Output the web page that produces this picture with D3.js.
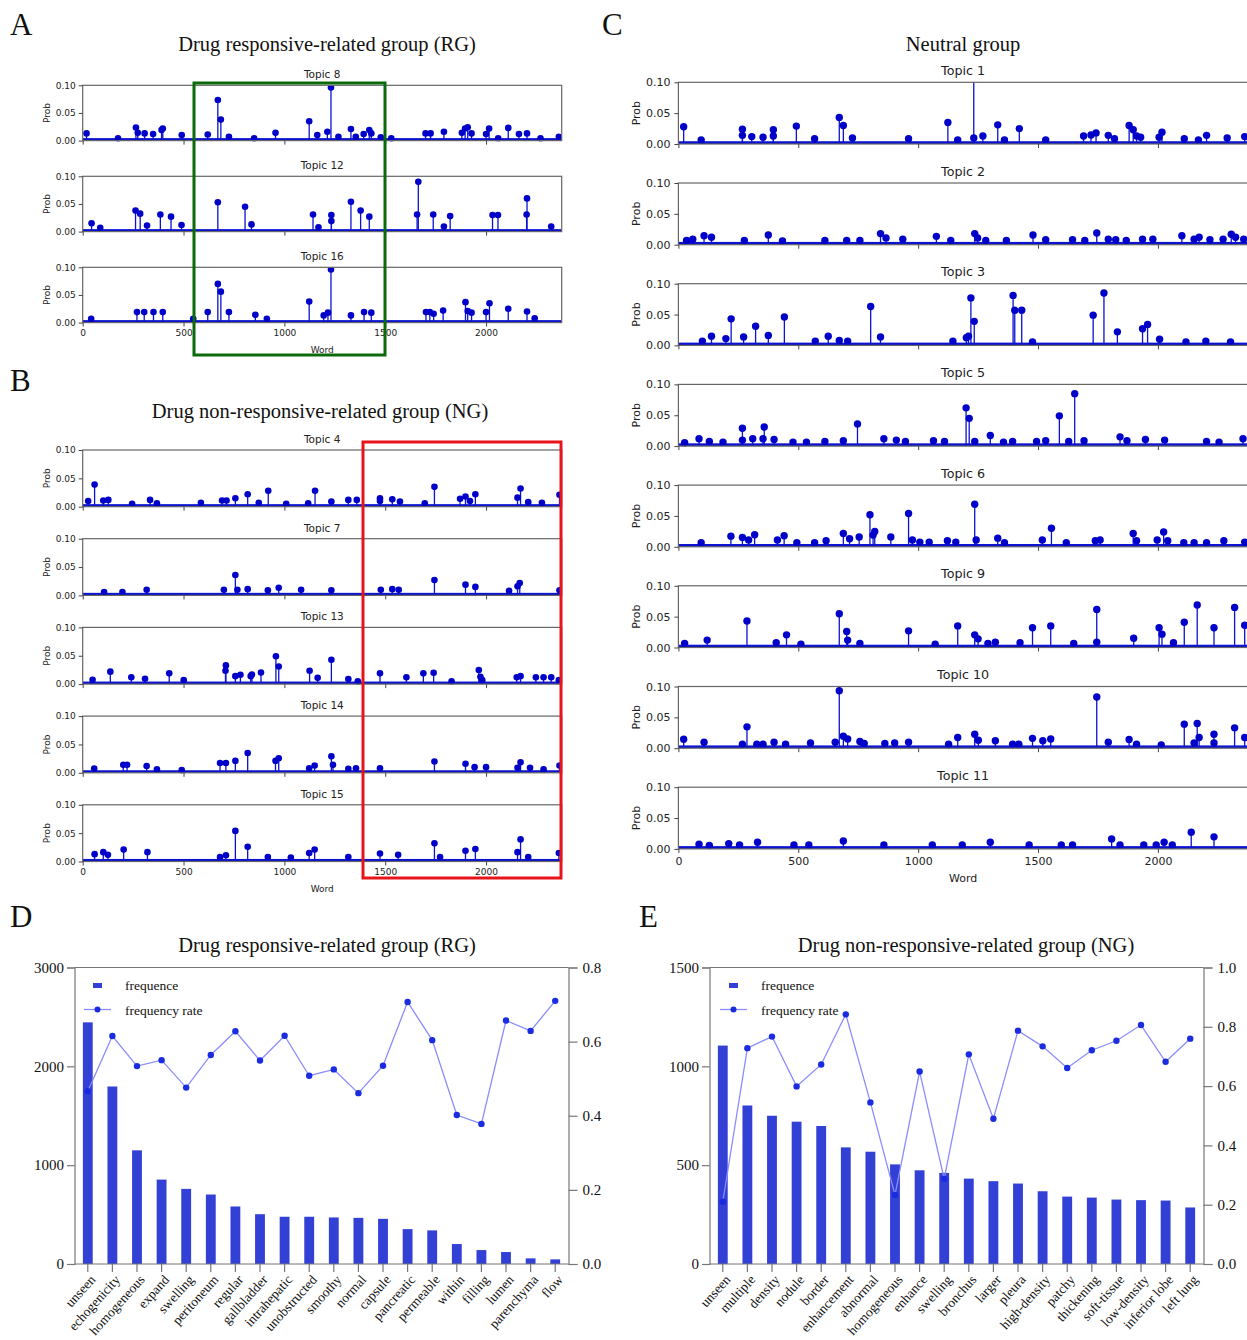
<!DOCTYPE html>
<html>
<head>
<meta charset="utf-8">
<script src="https://cdn.jsdelivr.net/npm/d3@7"></script>
<style>
  body { margin: 0; background: #fff; }
  .mpl text { font-family: "DejaVu Sans", sans-serif; fill: #222; }
  .serif text, text.serif { font-family: "Liberation Serif", "Times New Roman", serif; fill: #111; }
</style>
</head>
<body>
<svg id="fig" width="1247" height="1340"></svg>
<script>
// ---- topic word-probability peaks, [word index, prob] ----
const t1 = [[22,.028],[95,.0065],[267,.024],[267,.014],[306,.012],[353,.011],[396,.023],[396,.013],[492,.029],[568,.0086],[671,.043],[688,.030],[726,.0097],[960,.0086],[1124,.035],[1165,.0065],[1232,.115],[1232,.0097],[1270,.013],[1332,.031],[1360,.0065],[1422,.025],[1532,.0065],[1690,.013],[1721,.0146],[1742,.018],[1793,.014],[1819,.0086],[1880,.030],[1897,.023],[1911,.013],[1928,.011],[2005,.011],[2017,.019],[2110,.0086],[2169,.0065],[2203,.014],[2289,.0097],[2362,.012]];
const t2 = [[34,.007],[60,.009],[107,.0146],[138,.012],[275,.007],[375,.0157],[434,.006],[611,.007],[702,.007],[757,.007],[843,.018],[866,.011],[936,.009],[1076,.0135],[1136,.007],[1236,.018],[1248,.011],[1282,.007],[1368,.007],[1479,.0157],[1532,.008],[1644,.008],[1695,.007],[1745,.019],[1793,.009],[1824,.008],[1868,.007],[1936,.009],[1979,.009],[2100,.0146],[2151,.009],[2172,.012],[2217,.008],[2272,.009],[2306,.017],[2324,.012],[2358,.009]];
const t3 = [[100,.007],[138,.0148],[198,.011],[220,.043],[272,.0137],[322,.031],[375,.016],[442,.046],[571,.007],[625,.0148],[671,.008],[706,.007],[802,.063],[843,.0137],[1145,.007],[1201,.0126],[1210,.0148],[1220,.077],[1234,.039],[1396,.081],[1403,.057],[1432,.057],[1477,.0055],[1730,.049],[1775,.085],[1831,.022],[1936,.027],[1957,.034],[2007,.010],[2117,.0055],[2200,.007],[2303,.0055]];
const t4 = [[27,.010],[59,.039],[102,.011],[127,.012],[245,.005],[334,.012],[368,.006],[586,.007],[691,.011],[713,.011],[757,.015],[818,.022],[873,.007],[920,.028],[1009,.005],[1118,.006],[1152,.028],[1233,.009],[1317,.012],[1359,.012],[1474,.010],[1474,.015],[1535,.013],[1573,.009],[1696,.006],[1744,.035],[1871,.014],[1898,.018],[1920,.010],[1947,.022],[2156,.016],[2171,.032],[2209,.008],[2277,.007],[2364,.021]];
const t5 = [[26,.0054],[86,.012],[129,.0076],[186,.0065],[267,.029],[267,.0097],[310,.012],[353,.012],[358,.031],[399,.0108],[478,.0065],[534,.0065],[611,.0076],[688,.0086],[747,.036],[857,.012],[909,.0097],[947,.0076],[1064,.0086],[1110,.0076],[1200,.062],[1213,.045],[1236,.0076],[1301,.0173],[1356,.0065],[1394,.0076],[1494,.0076],[1532,.0086],[1589,.049],[1628,.0076],[1653,.085],[1692,.0086],[1842,.015],[1871,.0086],[1948,.0108],[2028,.0097],[2203,.0076],[2255,.0065],[2355,.012]];
const t6 = [[95,.0065],[219,.0173],[267,.015],[293,.011],[318,.0195],[413,.011],[441,.018],[494,.0065],[568,.0065],[616,.0097],[688,.0216],[714,.013],[754,.016],[799,.052],[812,.019],[819,.025],[886,.016],[960,.054],[976,.011],[1007,.0076],[1046,.0076],[1122,.0097],[1157,.0076],[1236,.069],[1242,.011],[1332,.014],[1360,.0065],[1518,.011],[1556,.030],[1618,.0065],[1739,.0097],[1759,.011],[1897,.0216],[1911,.0097],[1997,.011],[2024,.024],[2041,.0097],[2108,.0065],[2151,.0065],[2203,.0065],[2275,.0097],[2362,.0076]];
const t7 = [[106,.006],[197,.006],[317,.010],[700,.010],[757,.036],[767,.010],[818,.011],[918,.009],[972,.0135],[1083,.010],[1233,.009],[1478,.010],[1535,.011],[1567,.010],[1744,.027],[1898,.019],[1947,.015],[2114,.008],[2156,.016],[2167,.022],[2364,.009]];
const t8 = [[19,.013],[175,.004],[264,.0235],[273,.014],[307,.013],[349,.012],[391,.019],[397,.022],[491,.010],[620,.011],[670,.0735],[685,.038],[725,.007],[850,.004],[956,.014],[1123,.035],[1163,.010],[1213,.016],[1231,.096],[1268,.007],[1330,.021],[1354,.007],[1393,.012],[1421,.019],[1431,.013],[1478,.006],[1530,.004],[1700,.013],[1725,.013],[1791,.016],[1880,.014],[1896,.022],[1909,.024],[1928,.013],[2000,.012],[2015,.022],[2060,.004],[2110,.023],[2163,.012],[2203,.013],[2270,.004],[2361,.007]];
const t9 = [[26,.0065],[120,.012],[286,.043],[408,.0076],[451,.0205],[511,.0054],[671,.0546],[702,.026],[706,.012],[757,.0065],[960,.027],[1071,.0054],[1165,.035],[1236,.0205],[1250,.014],[1291,.0065],[1322,.0086],[1425,.0076],[1477,.032],[1553,.035],[1649,.0065],[1745,.0616],[1745,.0086],[1899,.015],[2005,.032],[2017,.0216],[2065,.0076],[2110,.041],[2164,.069],[2234,.032],[2320,.065],[2362,.036]];
const t10 = [[22,.0146],[107,.0097],[267,.0065],[286,.0346],[327,.0065],[353,.0065],[399,.0097],[447,.0065],[551,.0086],[654,.0097],[671,.093],[688,.0195],[706,.015],[757,.011],[775,.0076],[861,.0076],[902,.0086],[960,.0097],[1127,.0065],[1165,.0173],[1236,.0227],[1251,.013],[1322,.012],[1394,.0065],[1420,.0065],[1477,.016],[1520,.012],[1553,.015],[1745,.083],[1793,.0097],[1880,.014],[1911,.0065],[2014,.0054],[2110,.039],[2151,.0086],[2164,.040],[2172,.0173],[2234,.0227],[2234,.0086],[2320,.033],[2362,.0173]];
const t11 = [[86,.0076],[129,.0054],[210,.0086],[255,.0065],[330,.0108],[482,.0065],[544,.0065],[688,.013],[857,.0065],[1059,.0065],[1184,.0065],[1301,.0108],[1463,.0065],[1597,.0065],[1644,.0065],[1807,.0162],[1842,.0065],[1941,.0065],[1993,.0065],[2026,.0108],[2060,.0065],[2139,.027],[2234,.0195]];
const t12 = [[44,.015],[87,.007],[262,.038],[285,.0325],[319,.011],[385,.031],[438,.027],[490,.012],[670,.053],[805,.045],[837,.013],[1142,.031],[1169,.008],[1233,.030],[1233,.019],[1330,.054],[1378,.038],[1421,.027],[1658,.031],[1664,.090],[1738,.031],[1791,.009],[1822,.028],[2032,.030],[2059,.030],[2201,.031],[2203,.060],[2323,.009]];
const t13 = [[49,.0076],[137,.022],[241,.012],[309,.0094],[429,.019],[501,.007],[708,.0235],[710,.033],[757,.014],[782,.0164],[833,.014],[839,.017],[884,.0205],[958,.049],[972,.031],[1125,.0235],[1165,.011],[1233,.043],[1317,.009],[1364,.005],[1474,.019],[1605,.012],[1689,.019],[1740,.020],[1829,.005],[1964,.025],[1972,.013],[1981,.007],[2152,.012],[2171,.014],[2247,.012],[2285,.012],[2323,.012],[2361,.007]];
const t14 = [[57,.0076],[201,.014],[220,.014],[317,.012],[368,.006],[491,.0047],[681,.0174],[710,.0174],[757,.021],[818,.035],[956,.021],[972,.0256],[1123,.008],[1150,.0128],[1233,.029],[1241,.014],[1317,.007],[1355,.008],[1474,.008],[1744,.020],[1898,.016],[1943,.010],[2000,.010],[2156,.009],[2171,.0186],[2218,.009],[2285,.006],[2364,.0128]];
const t15 = [[59,.013],[102,.0165],[125,.012],[203,.021],[321,.0165],[681,.008],[710,.011],[757,.054],[818,.026],[918,.008],[1032,.007],[1123,.015],[1150,.021],[1317,.008],[1474,.014],[1564,.012],[1744,.032],[1772,.008],[1898,.019],[1947,.022],[2156,.0165],[2171,.039],[2209,.008],[2361,.015]];
const t16 = [[42,.007],[269,.019],[305,.019],[351,.019],[397,.019],[548,.007],[620,.019],[670,.070],[685,.056],[725,.019],[856,.014],[913,.007],[1123,.038],[1195,.013],[1216,.018],[1231,.096],[1330,.013],[1395,.019],[1431,.018],[1702,.019],[1721,.019],[1740,.016],[1787,.022],[1898,.037],[1909,.021],[1928,.018],[2000,.019],[2017,.035],[2110,.025],[2203,.020],[2241,.008]];

const wordMax = 2375;          // vocabulary size shown on x
const baseProb = 0.0045;       // level of the dense low-probability stems
const probTicks = [0, 0.05, 0.1];
const wordTicks = [0, 500, 1000, 1500, 2000];

const rgTopics = [8, 12, 16];
const ngTopics = [4, 7, 13, 14, 15];
const neutralTopics = [1, 2, 3, 5, 6, 9, 10, 11];

// ---- top-word frequency panels ----
const rgWords = ['unseen','echogenicity','homogeneous','expand','swelling','peritoneum','regular','gallbladder','intrahepatic','unobstructed','smoothy','normal','capsule','pancreatic','permeable','within','filling','lumen','parenchyma','flow'];
const rgFreq = [2445,1796,1150,854,760,703,582,504,478,478,471,467,457,353,340,202,141,121,57,47];
const rgRate = [0.466,0.615,0.534,0.550,0.476,0.564,0.628,0.549,0.616,0.508,0.525,0.461,0.535,0.707,0.604,0.402,0.378,0.657,0.629,0.710];
const rgFreqTicks = [0, 1000, 2000, 3000];
const rgRateTicks = [0, 0.2, 0.4, 0.6, 0.8];

const ngWords = ['unseen','multiple','density','nodule','border','enhancement','abnormal','homogeneous','enhance','swelling','bronchus','larger','pleura','high-density','patchy','thickening','soft-tissue','low-density','inferior lobe','left lung'];
const ngFreq = [1105,802,750,720,698,590,568,504,474,461,432,419,407,368,341,336,326,323,321,286];
const ngRate = [0.210,0.728,0.767,0.599,0.673,0.842,0.545,0.233,0.649,0.287,0.707,0.490,0.787,0.734,0.661,0.721,0.753,0.806,0.682,0.760];
const ngFreqTicks = [0, 500, 1000, 1500];
const ngRateTicks = [0, 0.2, 0.4, 0.6, 0.8, 1.0];

const peaksByTopic = {1: t1, 2: t2, 3: t3, 4: t4, 5: t5, 6: t6, 7: t7, 8: t8,
  9: t9, 10: t10, 11: t11, 12: t12, 13: t13, 14: t14, 15: t15, 16: t16};

const stemBlue = '#0b12d0';
const markBlue = '#0000c8';
const barBlue = '#3340d6';

const svg = d3.select('#fig');

function drawTopic(num, box, st, showLabels) {
  const x = d3.scaleLinear().domain([0, wordMax]).range([box.left, box.right]);
  const y = d3.scaleLinear().domain([0, 0.1]).range([box.bottom, box.top]);
  const peaks = peaksByTopic[num];
  const id = 'clip-t' + num;

  svg.append('clipPath').attr('id', id).append('rect')
    .attr('x', box.left).attr('y', box.top)
    .attr('width', box.right - box.left).attr('height', box.bottom - box.top + 1);

  const g = svg.append('g').attr('clip-path', 'url(#' + id + ')');

  // dense band of tiny stems at the bottom
  g.append('rect')
    .attr('x', x(0)).attr('y', y(baseProb))
    .attr('width', x(wordMax) - x(0)).attr('height', y(0) - y(baseProb))
    .attr('fill', stemBlue);

  g.selectAll('line.stem').data(peaks).enter().append('line')
    .attr('class', 'stem')
    .attr('x1', d => x(d[0])).attr('x2', d => x(d[0]))
    .attr('y1', y(0)).attr('y2', d => y(d[1]))
    .attr('stroke', stemBlue).attr('stroke-width', 1.3);

  g.selectAll('circle').data(peaks).enter().append('circle')
    .attr('cx', d => x(d[0])).attr('cy', d => y(d[1]))
    .attr('r', st.r).attr('fill', markBlue);

  // frame
  svg.append('rect')
    .attr('x', box.left).attr('y', box.top)
    .attr('width', box.right - box.left).attr('height', box.bottom - box.top)
    .attr('fill', 'none').attr('stroke', '#666').attr('stroke-width', 1.2);

  const ax = svg.append('g').attr('class', 'mpl');

  const ya = ax.append('g')
    .attr('transform', 'translate(' + box.left + ',0)')
    .call(d3.axisLeft(y).tickValues(probTicks).tickFormat(d3.format('.2f'))
      .tickSize(st.tick).tickPadding(st.pad));
  ya.select('.domain').remove();

  const xa = ax.append('g')
    .attr('transform', 'translate(0,' + box.bottom + ')')
    .call(d3.axisBottom(x).tickValues(wordTicks)
      .tickFormat(showLabels ? d3.format('d') : () => '')
      .tickSize(st.tick).tickPadding(st.pad));
  xa.select('.domain').remove();

  ax.selectAll('.tick line').attr('stroke', '#444');
  ax.selectAll('.tick text').attr('font-size', st.fs).attr('fill', '#222');

  ax.append('text')
    .attr('x', (box.left + box.right) / 2).attr('y', box.top - st.titleGap)
    .attr('text-anchor', 'middle').attr('font-size', st.titleFs)
    .text('Topic ' + num);

  ax.append('text')
    .attr('transform', 'translate(' + st.probX + ',' + (box.top + box.bottom) / 2 + ') rotate(-90)')
    .attr('text-anchor', 'middle').attr('dy', '0.35em').attr('font-size', st.fs)
    .text('Prob');

  if (showLabels) {
    ax.append('text')
      .attr('x', (box.left + box.right) / 2).attr('y', box.bottom + st.wordGap)
      .attr('text-anchor', 'middle').attr('font-size', st.fs)
      .text('Word');
  }
}

// panel A
const smallStyle = { r: 3.3, tick: 4, pad: 3, fs: 9, titleFs: 10.5, titleGap: 7, probX: 47, wordGap: 30 };
rgTopics.forEach(function (num, i) {
  const top = 85.3 + i * 91;
  drawTopic(num, { left: 82.7, right: 561.7, top: top, bottom: top + 55.3 }, smallStyle, i === rgTopics.length - 1);
});

// panel B
ngTopics.forEach(function (num, i) {
  const top = 450 + i * 88.7;
  drawTopic(num, { left: 82.7, right: 561.7, top: top, bottom: top + 56.7 }, smallStyle, i === ngTopics.length - 1);
});

// panel C
const bigStyle = { r: 3.7, tick: 4, pad: 4, fs: 11, titleFs: 12.7, titleGap: 7.5, probX: 636, wordGap: 33 };
neutralTopics.forEach(function (num, i) {
  const top = 82.3 + i * 100.7;
  drawTopic(num, { left: 678.4, right: 1247.8, top: top, bottom: top + 61.7 }, bigStyle, i === neutralTopics.length - 1);
});

// highlight boxes
svg.append('rect').attr('x', 194).attr('y', 83).attr('width', 191).attr('height', 272)
  .attr('fill', 'none').attr('stroke', '#0b6b0b').attr('stroke-width', 3);
svg.append('rect').attr('x', 363).attr('y', 442).attr('width', 198).attr('height', 436)
  .attr('fill', 'none').attr('stroke', '#e8141a').attr('stroke-width', 3);

function drawFreqPanel(words, freq, rate, freqTicks, rateTicks, box, legendX) {
  const x = d3.scaleBand().domain(words).range([box.left, box.right])
    .paddingInner(0.6).paddingOuter(0.34);
  const yL = d3.scaleLinear().domain([0, freqTicks[freqTicks.length - 1]]).range([box.bottom, box.top]);
  const yR = d3.scaleLinear().domain([0, rateTicks[rateTicks.length - 1]]).range([box.bottom, box.top]);
  const cx = w => x(w) + x.bandwidth() / 2;

  const g = svg.append('g').attr('class', 'serif');

  g.selectAll('rect.bar').data(words).enter().append('rect')
    .attr('class', 'bar')
    .attr('x', w => x(w)).attr('width', x.bandwidth())
    .attr('y', (w, i) => yL(freq[i]))
    .attr('height', (w, i) => yL(0) - yL(freq[i]))
    .attr('fill', barBlue);

  // top and bottom frame lines
  g.append('line').attr('x1', box.left).attr('x2', box.right)
    .attr('y1', box.top).attr('y2', box.top).attr('stroke', '#777').attr('stroke-width', 1.2);

  const xa = g.append('g').attr('transform', 'translate(0,' + box.bottom + ')')
    .call(d3.axisBottom(x).tickSize(8).tickFormat(''));
  xa.select('.domain').attr('d', 'M' + box.left + ',0H' + box.right);

  const la = g.append('g').attr('transform', 'translate(' + box.left + ',0)')
    .call(d3.axisLeft(yL).tickValues(freqTicks).tickSize(7.5).tickPadding(3).tickFormat(d3.format('d')));
  const ra = g.append('g').attr('transform', 'translate(' + box.right + ',0)')
    .call(d3.axisRight(yR).tickValues(rateTicks).tickSize(9).tickPadding(5).tickFormat(d3.format('.1f')));

  g.selectAll('.domain, .tick line').attr('stroke', '#777').attr('stroke-width', 1.2);
  la.selectAll('text').attr('font-size', 15).attr('fill', '#111').attr('font-family', '"Liberation Serif", serif');
  ra.selectAll('text').attr('font-size', 15).attr('fill', '#111').attr('font-family', '"Liberation Serif", serif');

  g.selectAll('text.cat').data(words).enter().append('text')
    .attr('class', 'cat')
    .attr('transform', w => 'translate(' + (cx(w) + 5) + ',' + (box.bottom + 13) + ') rotate(-48)')
    .attr('text-anchor', 'end').attr('dy', '0.35em')
    .attr('font-size', 13.5)
    .text(w => w);

  // rate line
  const line = d3.line().x((d, i) => cx(words[i])).y(d => yR(d));
  g.append('path').datum(rate).attr('d', line)
    .attr('fill', 'none').attr('stroke', '#8a8cff').attr('stroke-width', 1.3);
  g.selectAll('circle.rate').data(rate).enter().append('circle')
    .attr('class', 'rate')
    .attr('cx', (d, i) => cx(words[i])).attr('cy', d => yR(d))
    .attr('r', 3.2).attr('fill', '#1a2be0');

  // legend
  g.append('rect').attr('x', legendX + 9).attr('y', box.top + 15.5).attr('width', 9).attr('height', 5)
    .attr('fill', barBlue);
  g.append('text').attr('x', legendX + 41).attr('y', box.top + 22).attr('font-size', 13.5).text('frequence');
  g.append('line').attr('x1', legendX).attr('x2', legendX + 27)
    .attr('y1', box.top + 42).attr('y2', box.top + 42).attr('stroke', '#8a8cff').attr('stroke-width', 1.3);
  g.append('circle').attr('cx', legendX + 13.5).attr('cy', box.top + 42).attr('r', 3).attr('fill', '#1a2be0');
  g.append('text').attr('x', legendX + 41).attr('y', box.top + 47).attr('font-size', 13.5).text('frequency rate');
}

drawFreqPanel(rgWords, rgFreq, rgRate, rgFreqTicks, rgRateTicks,
  { left: 74.5, right: 568.5, top: 967.5, bottom: 1264 }, 84);
drawFreqPanel(ngWords, ngFreq, ngRate, ngFreqTicks, ngRateTicks,
  { left: 709.5, right: 1203.5, top: 967.5, bottom: 1264 }, 720);

// panel titles and letters
const titles = [
  ['Drug responsive-related group (RG)', 327, 51],
  ['Drug non-responsive-related group (NG)', 320, 418],
  ['Neutral group', 963, 51],
  ['Drug responsive-related group (RG)', 327, 952],
  ['Drug non-responsive-related group (NG)', 966, 952]
];
titles.forEach(function (t) {
  svg.append('text').attr('class', 'serif')
    .attr('x', t[1]).attr('y', t[2]).attr('text-anchor', 'middle')
    .attr('font-size', 20.5).attr('fill', '#111')
    .style('font-family', '"Liberation Serif", "Times New Roman", serif')
    .text(t[0]);
});

const letters = [['A', 10, 35], ['B', 10, 391], ['C', 602, 35], ['D', 10, 927], ['E', 639, 927]];
letters.forEach(function (l) {
  svg.append('text')
    .attr('x', l[1]).attr('y', l[2])
    .attr('font-size', 31).attr('fill', '#111')
    .style('font-family', '"Liberation Serif", "Times New Roman", serif')
    .text(l[0]);
});
</script>
</body>
</html>
